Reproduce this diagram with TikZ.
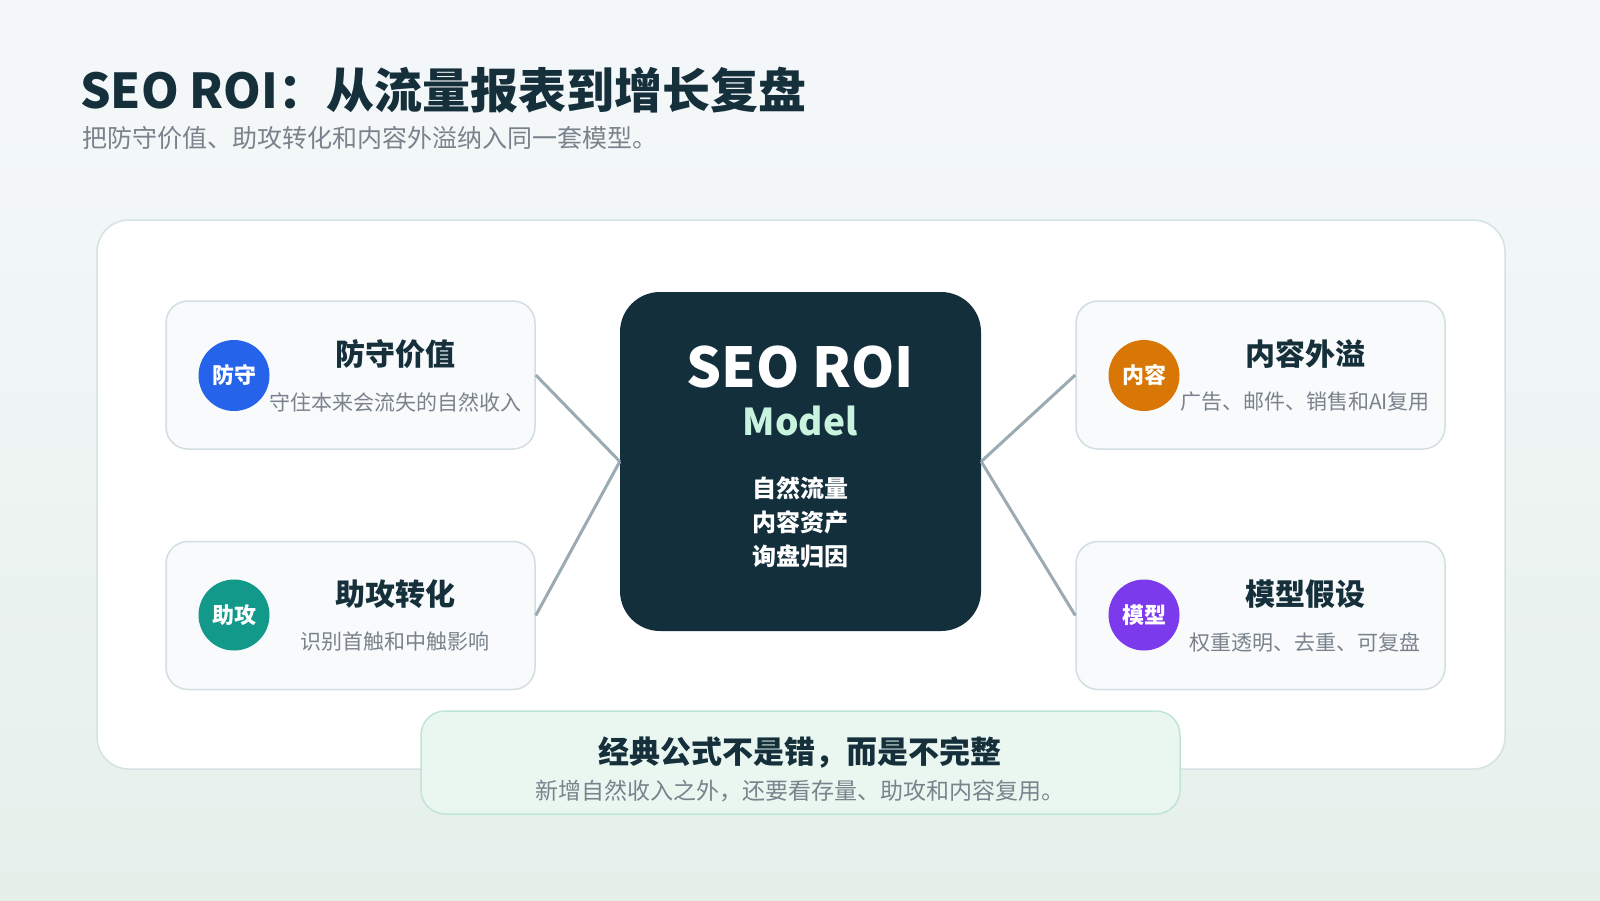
\documentclass[tikz,border=0pt]{standalone}
\usepackage{fontspec}
\setmainfont{Noto Sans CJK SC}
\usetikzlibrary{positioning}

\definecolor{ink}{HTML}{15303A}
\definecolor{corefill}{HTML}{132F3C}
\definecolor{mint}{HTML}{C8F3DF}
\definecolor{softgray}{HTML}{7A838C}
\definecolor{cardfill}{HTML}{F8FAFC}
\definecolor{cardline}{HTML}{D3DEE2}
\definecolor{panelline}{HTML}{D5E2E3}
\definecolor{linkgray}{HTML}{9AABB3}
\definecolor{notefill}{HTML}{EAF7F1}
\definecolor{noteline}{HTML}{BFE5D4}
\definecolor{bgtop}{HTML}{F5F8FA}
\definecolor{bgbot}{HTML}{E6F0EB}
\definecolor{defendblue}{HTML}{2563EB}
\definecolor{assistteal}{HTML}{12998A}
\definecolor{spillorange}{HTML}{D97706}
\definecolor{modelpurple}{HTML}{7C3AED}

\tikzset{
  card/.style={draw=cardline, line width=1.5pt, fill=cardfill, rounded corners=22pt,
    minimum width=369pt, minimum height=148pt},
  badge/.style={circle, fill=#1, minimum size=71pt, inner sep=0pt, text=white,
    font=\fontsize{22}{24}\selectfont\bfseries},
  cardtitle/.style={text=ink, font=\fontsize{30}{34}\selectfont\bfseries},
  cardtext/.style={text=softgray, font=\fontsize{21}{24}\selectfont},
  link/.style={draw=linkgray, line width=3pt},
}

\begin{document}
\begin{tikzpicture}[x=1pt,y=-1pt]
    % Background
    \shade[top color=bgtop, bottom color=bgbot] (0,0) rectangle (1600,900);
    \useasboundingbox (0,0) rectangle (1600,900);

    % Heading
    \node[anchor=west, inner sep=0pt, text=ink, font=\fontsize{48}{54}\selectfont\bfseries]
        (title) at (80,90) {SEO ROI：从流量报表到增长复盘};
    \node[anchor=west, inner sep=0pt, text=softgray, font=\fontsize{25}{28}\selectfont]
        (subtitle) at (82,138) {把防守价值、助攻转化和内容外溢纳入同一套模型。};

    % Panel
    \draw[draw=panelline, line width=1.5pt, fill=white, rounded corners=32pt] (97,220) rectangle (1505,769);

    % Cards
    \node[card] (defend) at (350.5,375) {};
    \node[card] (assist) at (350.5,615.5) {};
    \node[card] (spill) at (1260.5,375) {};
    \node[card] (assume) at (1260.5,615.5) {};

    % Core
    \node[fill=corefill, rounded corners=40pt, minimum width=361pt, minimum height=339pt] (core) at (800.5,461.5) {};

    % Links
    \draw[link] (defend.east) -- (core.west);
    \draw[link] (assist.east) -- (core.west);
    \draw[link] (spill.west) -- (core.east);
    \draw[link] (assume.west) -- (core.east);

    \node[text=white, font=\fontsize{55}{60}\selectfont\bfseries] (coretitle) at (800,367) {SEO ROI};
    \node[text=mint, font=\fontsize{37}{40}\selectfont\bfseries] (coresub) at (800,421) {Model};
    \node[text=white, align=center, font=\fontsize{24}{34}\selectfont\bfseries] (corelist) at (800,522)
        {自然流量\\内容资产\\询盘归因};

    % Card contents
    \node[badge=defendblue] (defendicon) at (234,375.5) {防守};
    \node[cardtitle] (defendtitle) at (395,354) {防守价值};
    \node[cardtext] (defendtext) at (395,402) {守住本来会流失的自然收入};

    \node[badge=assistteal] (assisticon) at (234,615) {助攻};
    \node[cardtitle] (assisttitle) at (395,594) {助攻转化};
    \node[cardtext] (assisttext) at (395,642) {识别首触和中触影响};

    \node[badge=spillorange] (spillicon) at (1144,375.5) {内容};
    \node[cardtitle] (spilltitle) at (1305,354) {内容外溢};
    \node[cardtext] (spilltext) at (1305,402) {广告、邮件、销售和AI复用};

    \node[badge=modelpurple] (assumeicon) at (1144,615) {模型};
    \node[cardtitle] (assumetitle) at (1305,594) {模型假设};
    \node[cardtext] (assumetext) at (1305,642) {权重透明、去重、可复盘};

    % Note
    \node[draw=noteline, line width=1.5pt, fill=notefill, rounded corners=24pt,
        minimum width=759pt, minimum height=103pt] (note) at (800.5,762.5) {};
    \node[text=ink, font=\fontsize{31}{34}\selectfont\bfseries] (notetitle) at (800,752) {经典公式不是错，而是不完整};
    \node[text=softgray, font=\fontsize{23}{26}\selectfont] (notetext) at (800,791) {新增自然收入之外，还要看存量、助攻和内容复用。};
\end{tikzpicture}
\end{document}
